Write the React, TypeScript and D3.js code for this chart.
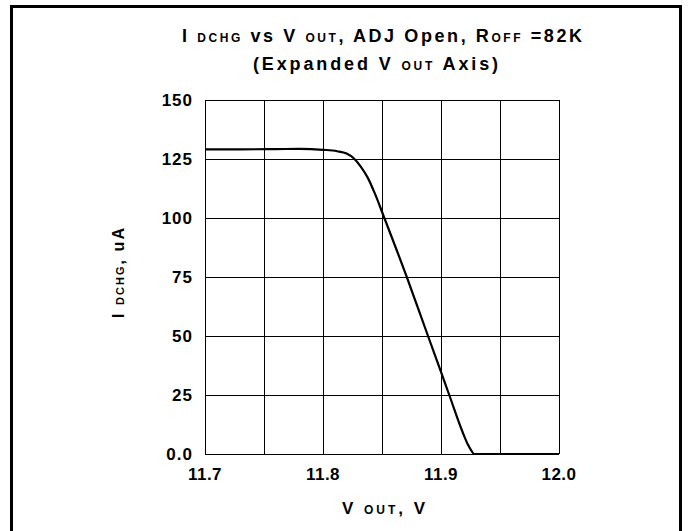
import * as d3 from "d3";

// values
const vout = [11.7, 11.73, 11.76, 11.78, 11.8, 11.812, 11.82, 11.826, 11.832, 11.838, 11.844, 11.852, 11.871, 11.889, 11.9, 11.907, 11.9186, 11.9229, 11.926, 11.928, 11.95, 12.0];
const idchg = [129.1, 129.1, 129.2, 129.3, 128.9, 128.3, 127.3, 125.3, 121.8, 117.0, 110.3, 100.0, 75.0, 50.0, 34.8, 25.0, 8.9, 3.9, 1.2, 0, 0, 0];

const xTicks = [11.7, 11.75, 11.8, 11.85, 11.9, 11.95, 12.0];
const xTickLabels = ["11.7", "", "11.8", "", "11.9", "", "12.0"];
const yTicks = [0, 25, 50, 75, 100, 125, 150];
const yTickLabels = ["0.0", "25", "50", "75", "100", "125", "150"];

const W = 688;
const H = 531;
const plot = { left: 205, right: 559, top: 100, bottom: 454 };
const font = "'Liberation Sans', Arial, sans-serif";

export default function App() {
  const x = d3.scaleLinear().domain([11.7, 12.0]).range([plot.left, plot.right]);
  const y = d3.scaleLinear().domain([0, 150]).range([plot.bottom, plot.top]);

  const pts: [number, number][] = vout.map((v, i) => [v, idchg[i]]);
  const line = d3
    .line<[number, number]>()
    .x((d) => x(d[0]))
    .y((d) => y(d[1]))
    .curve(d3.curveMonotoneX);

  const big = 18;
  const small = 12;

  return (
    <svg width={W} height={H} style={{ position: "absolute", left: 0, top: 0, background: "#fff" }}>
      {/* outer frame */}
      <path d={`M11.5,${H + 5} V6.5 H680.5 V${H + 5}`} fill="none" stroke="#000" strokeWidth={3} />

      {/* title */}
      <g fontFamily={font} fontWeight="bold" fill="#000" xmlSpace="preserve">
        <text x={182} y={42} fontSize={big} textLength={400} lengthAdjust="spacing">
          <tspan>I </tspan>
          <tspan fontSize={small}>DCHG</tspan>
          <tspan>{"  vs  V "}</tspan>
          <tspan fontSize={small}>OUT</tspan>
          <tspan>{",  ADJ  Open,  R"}</tspan>
          <tspan fontSize={small}>OFF</tspan>
          <tspan>{" =82K"}</tspan>
        </text>
        <text x={253} y={70} fontSize={big} textLength={245} lengthAdjust="spacing">
          <tspan>{"(Expanded  V "}</tspan>
          <tspan fontSize={small}>OUT</tspan>
          <tspan>{"  Axis)"}</tspan>
        </text>
      </g>

      {/* grid */}
      <g stroke="#000" strokeWidth={1} shapeRendering="crispEdges">
        {xTicks.map((t) => (
          <line key={"gx" + t} x1={x(t)} x2={x(t)} y1={plot.top} y2={plot.bottom} />
        ))}
        {yTicks.map((t) => (
          <line key={"gy" + t} x1={plot.left} x2={plot.right} y1={y(t)} y2={y(t)} />
        ))}
      </g>

      {/* curve */}
      <path d={line(pts) ?? ""} fill="none" stroke="#000" strokeWidth={2.2} strokeLinejoin="round" />

      {/* tick labels */}
      <g fontFamily={font} fontWeight="bold" fontSize={17} fill="#000">
        {yTicks.map((t, i) => (
          <text key={"ty" + t} x={plot.left - 12} y={y(t) + 6} textAnchor="end" letterSpacing={1}>
            {yTickLabels[i]}
          </text>
        ))}
        {xTicks.map((t, i) =>
          xTickLabels[i] ? (
            <text key={"tx" + t} x={x(t)} y={480} textAnchor="middle" letterSpacing={0.5}>
              {xTickLabels[i]}
            </text>
          ) : null
        )}
      </g>

      {/* axis titles */}
      <g fontFamily={font} fontWeight="bold" fill="#000" xmlSpace="preserve">
        <text x={342} y={514} fontSize={17} textLength={83} lengthAdjust="spacing">
          <tspan>V </tspan>
          <tspan fontSize={small}>OUT</tspan>
          <tspan>{",  V"}</tspan>
        </text>
        <text transform="translate(124,318) rotate(-90)" fontSize={16} textLength={90} lengthAdjust="spacing">
          <tspan>I </tspan>
          <tspan fontSize={small - 1}>DCHG</tspan>
          <tspan>{",  uA"}</tspan>
        </text>
      </g>
    </svg>
  );
}
